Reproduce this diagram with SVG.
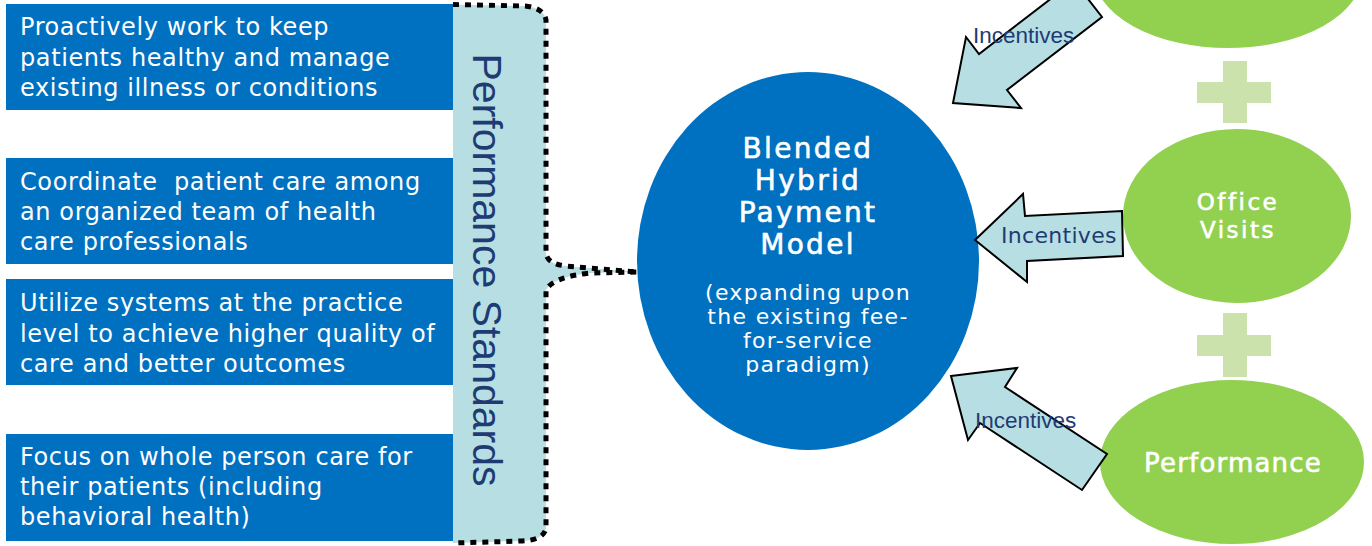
<svg xmlns="http://www.w3.org/2000/svg" width="1372" height="546" viewBox="0 0 1372 546">
<style>
.box{fill:#0070C0}
.bt{font-family:"DejaVu Sans","Verdana",sans-serif;font-size:24px;fill:#fff;letter-spacing:0.6px}
.ct{font-family:"DejaVu Sans","Verdana",sans-serif;fill:#fff;text-anchor:middle}
.med{stroke:#fff;stroke-width:0.6px}
.green{fill:#92D050;stroke:#fff;stroke-width:2}
.plus{fill:#CCE2AC}
.arrow{fill:#B7DFE3;stroke:#000;stroke-width:2;stroke-linejoin:miter}
.lblA{font-family:"Liberation Sans",Arial,sans-serif;font-size:22.5px;fill:#1F3B73}
.lblV{font-family:"DejaVu Sans","Verdana",sans-serif;font-size:22px;fill:#1F3B73;letter-spacing:0.3px}
</style>
<rect width="1372" height="546" fill="#fff"/>

<g id="panel-performance-standards">
<path d="M453,4.5 L525,6 Q544,8 546,20 L546,254 Q548,264 566,266 L638,272 L590,273 Q553,277 546,290 L546,528 Q544,540 522,541 L453,543 Z" fill="#B7DFE3"/>
<path d="M453,4.5 L525,6 Q544,8 546,20 L546,254 Q548,264 566,266 L638,272 L590,273 Q553,277 546,290 L546,528 Q544,540 522,541 L453,543" fill="none" stroke="#000" stroke-width="5" stroke-dasharray="6 6"/>
<text transform="translate(473,270) rotate(90)" text-anchor="middle" font-family="'Liberation Sans',Arial,sans-serif" font-size="41" fill="#1F3B73">Performance Standards</text>
</g>

<g id="box-proactive">
<rect class="box" x="6" y="4" width="447" height="106"/>
<text class="bt" x="20" y="35">Proactively work to keep</text>
<text class="bt" x="20" y="65.5">patients healthy and manage</text>
<text class="bt" x="20" y="96">existing illness or conditions</text>
</g>
<g id="box-coordinate">
<rect class="box" x="6" y="158" width="447" height="106"/>
<text class="bt" x="20" y="190" xml:space="preserve">Coordinate  patient care among</text>
<text class="bt" x="20" y="220">an organized team of health</text>
<text class="bt" x="20" y="250">care professionals</text>
</g>
<g id="box-utilize">
<rect class="box" x="6" y="279" width="447" height="106"/>
<text class="bt" x="20" y="311">Utilize systems at the practice</text>
<text class="bt" x="20" y="341.5">level to achieve higher quality of</text>
<text class="bt" x="20" y="372">care and better outcomes</text>
</g>
<g id="box-focus">
<rect class="box" x="6" y="434" width="447" height="107"/>
<text class="bt" x="20" y="465">Focus on whole person care for</text>
<text class="bt" x="20" y="495">their patients (including</text>
<text class="bt" x="20" y="525">behavioral health)</text>
</g>

<g id="node-blended">
<ellipse cx="808" cy="261" rx="171" ry="189" fill="#0070C0"/>
<g class="ct med" font-size="28" letter-spacing="2.3">
<text x="808" y="158">Blended</text>
<text x="808" y="190">Hybrid</text>
<text x="808" y="222">Payment</text>
<text x="808" y="254">Model</text>
</g>
<g class="ct" font-size="22" letter-spacing="1.3">
<text x="808" y="300">(expanding upon</text>
<text x="808" y="324">the existing fee-</text>
<text x="808" y="348">for-service</text>
<text x="808" y="372">paradigm)</text>
</g>
</g>

<g id="node-top-green">
<ellipse class="green" cx="1228" cy="-26" rx="135" ry="75"/>
</g>
<g id="plus-1">
<rect class="plus" x="1223" y="61" width="24" height="62"/>
<rect class="plus" x="1197" y="82" width="74" height="21"/>
</g>
<g id="node-office-visits">
<ellipse class="green" cx="1237" cy="216" rx="115" ry="88"/>
<g class="ct med" font-size="23" letter-spacing="2.5">
<text x="1238" y="210">Office</text>
<text x="1238" y="238">Visits</text>
</g>
</g>
<g id="plus-2">
<rect class="plus" x="1223" y="313" width="24" height="64"/>
<rect class="plus" x="1197" y="335" width="74" height="21"/>
</g>
<g id="node-performance">
<ellipse class="green" cx="1232" cy="462" rx="133" ry="83"/>
<text class="ct med" x="1233" y="472" font-size="26" letter-spacing="1.2">Performance</text>
</g>

<g id="connectors">
<polygon class="arrow" points="1074,-19 1102,17 1007,90 1021,108 953,103 966,37 979,54"/>
<polygon class="arrow" points="975,240 1023,194 1025,216 1122,211 1123,256 1027,261 1027,282"/>
<polygon class="arrow" points="951,376 1017,368 1005,387 1107,454 1082,490 980,423 968,440"/>
<text class="lblA" x="973" y="43">Incentives</text>
<text class="lblV" x="1001" y="243">Incentives</text>
<text class="lblA" x="975" y="428">Incentives</text>
</g>
</svg>
